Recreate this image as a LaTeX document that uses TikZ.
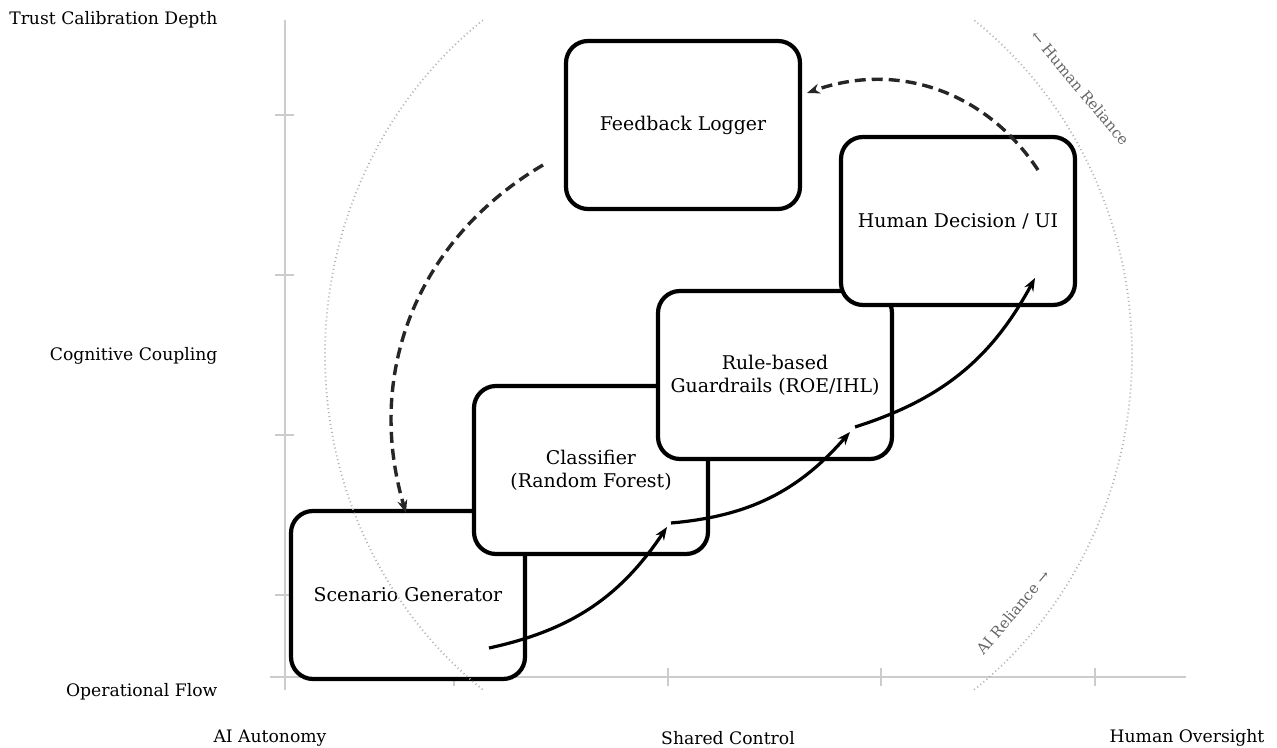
\documentclass[tikz,border=0pt]{standalone}
\usepackage{fontspec}
\setmainfont{DejaVu Serif}
\usetikzlibrary{arrows.meta,positioning}

\begin{document}
\begin{tikzpicture}[
    x=1pt, y=1pt,
    stage/.style={rectangle,rounded corners=22pt,draw,fill=white,line width=4.2pt,minimum width=234pt,minimum height=168pt,align=center,font=\fontsize{18.9}{23}\selectfont},
    flow/.style={-{Stealth[length=13pt,width=10pt]},line width=3.2pt,bend right=22},
    feedback/.style={-{Stealth[length=13pt,width=10pt]},line width=3.4pt,black!85,dash pattern=on 11pt off 6pt,bend right=38},
    axis line/.style={black!20,line width=1.8pt},
    axis label/.style={font=\fontsize{17.2}{20}\selectfont},
    guide/.style={black!30,line width=1.8pt,dash pattern=on 1pt off 3pt},
    reliance/.style={black!60,font=\fontsize{15}{18}\selectfont}
]
\useasboundingbox (0,0) rectangle (1277,747);

% Axes
\draw[axis line] (270,70) -- (1186,70);
\draw[axis line] (285,57) -- (285,727);
\foreach \x in {454,668,881,1095} \draw[axis line] (\x,61) -- (\x,79);
\foreach \y in {152,312,472,632} \draw[axis line] (275,\y) -- (294,\y);

% Pipeline stages
\node[stage] (scen) at (408,152) {Scenario Generator};
\node[stage] (clf) at (591,277) {Classifier\\(Random Forest)};
\node[stage] (rule) at (775,372) {Rule-based\\Guardrails (ROE/IHL)};
\node[stage] (human) at (958,526) {Human Decision / UI};
\node[stage] (logger) at (683,622) {Feedback Logger};

% Reliance guides
\draw[guide] (728.5,392) ++(127.5:403.5 and 422) arc[start angle=127.5,end angle=232.5,x radius=403.5,y radius=422];
\draw[guide] (728.5,392) ++(-52.5:403.5 and 422) arc[start angle=-52.5,end angle=52.5,x radius=403.5,y radius=422];
\node[reliance,rotate=-50] (human rel) at (1080,659) {← Human Reliance};
\node[reliance,rotate=50] (ai rel) at (1013,135) {AI Reliance →};

% Arrow ends
\coordinate (scen out) at (489,99);
\coordinate (clf in) at (667,220);
\coordinate (clf out) at (671,224);
\coordinate (rule in) at (850,315);
\coordinate (rule out) at (855,320);
\coordinate (human in) at (1035,469);
\coordinate (human out) at (1038,577);
\coordinate (logger in) at (807,654);
\coordinate (logger out) at (543,582);
\coordinate (scen in) at (406,234);

% Arrows
\draw[flow] (scen out) to (clf in);
\draw[flow] (clf out) to (rule in);
\draw[flow] (rule out) to (human in);
\draw[feedback] (human out) to (logger in);
\draw[feedback] (logger out) to (scen in);

% Axis labels
\node[axis label,anchor=east] (y top) at (221,727) {Trust Calibration Depth};
\node[axis label,anchor=east] (y mid) at (221,391) {Cognitive Coupling};
\node[axis label,anchor=east] (y low) at (221,55) {Operational Flow};
\node[axis label] (x left) at (270,9) {AI Autonomy};
\node[axis label] (x mid) at (728,9) {Shared Control};
\node[axis label] (x right) at (1187,9) {Human Oversight};

\end{tikzpicture}
\end{document}
